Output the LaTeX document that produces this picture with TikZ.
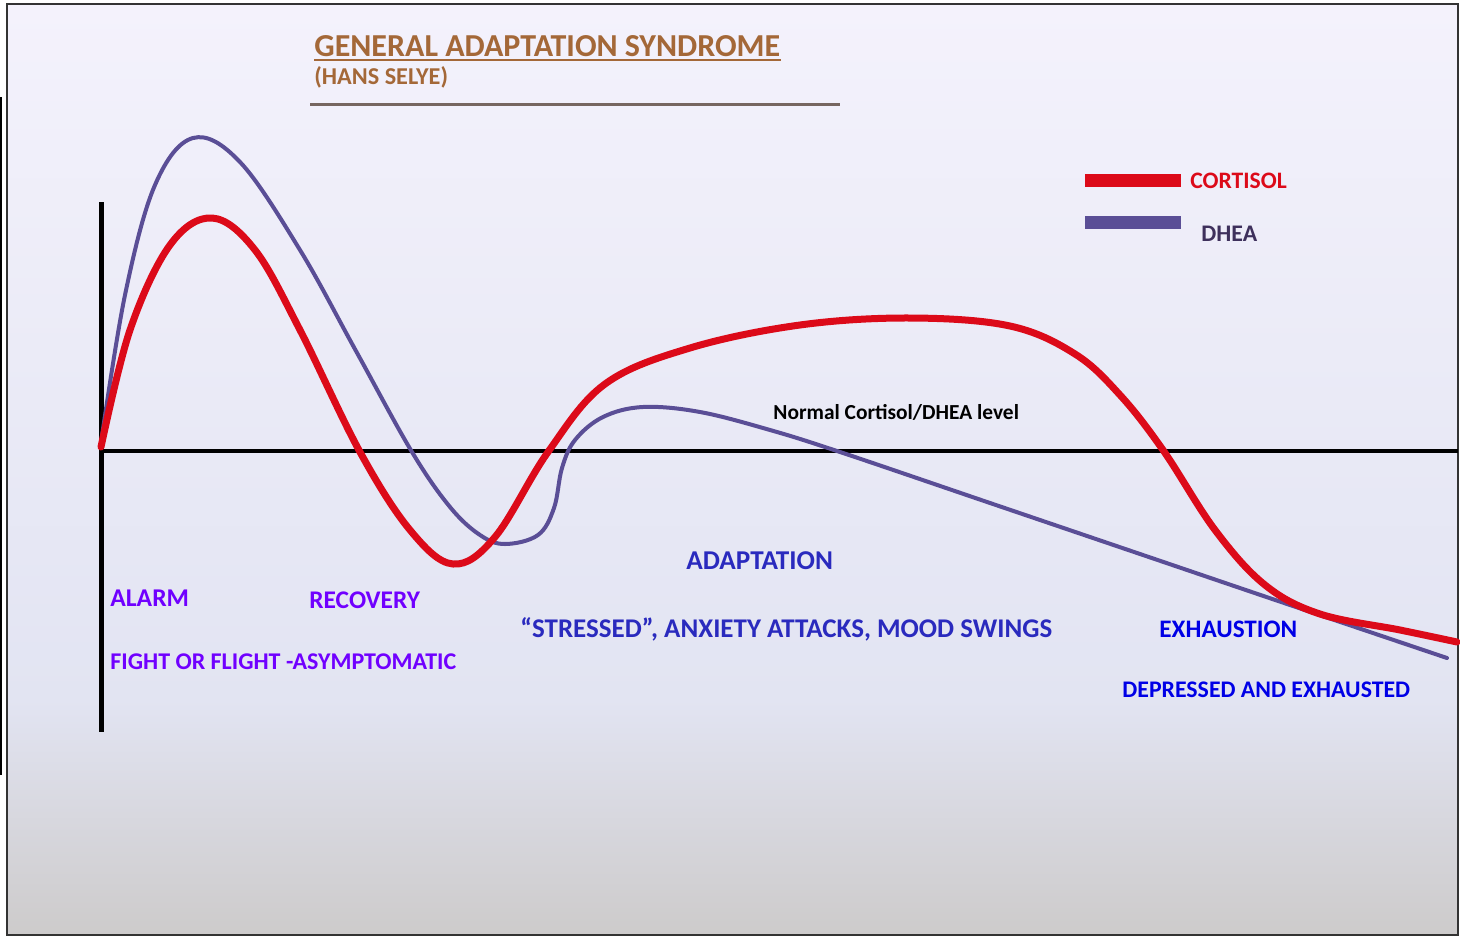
\documentclass[tikz,border=0pt]{standalone}
\usepackage{fontspec}
\setmainfont{Carlito}
\usepackage{xcolor}

\definecolor{cortisol}{RGB}{220,10,25}
\definecolor{dhea}{RGB}{90,78,150}
\definecolor{dheatext}{RGB}{62,48,92}
\definecolor{phaseviolet}{RGB}{112,0,255}
\definecolor{adaptblue}{RGB}{42,42,190}
\definecolor{exhblue}{RGB}{0,0,230}
\definecolor{titlebrown}{RGB}{164,104,56}
\definecolor{rulegrey}{RGB}{118,102,96}
\definecolor{bgtop}{RGB}{244,242,252}
\definecolor{bgmid}{RGB}{226,228,242}
\definecolor{bgbot}{RGB}{205,203,203}

\tikzset{
  cortisolline/.style={draw=cortisol,line width=3.5pt,line cap=round,line join=round},
  dhealine/.style={draw=dhea,line width=2pt,line cap=round,line join=round},
  phase/.style={anchor=base west,inner sep=0pt,font=\bfseries\fontsize{12.7}{15}\selectfont},
}

\begin{document}
\begin{tikzpicture}[x=0.5pt,y=-0.5pt]
        \useasboundingbox (0,0) rectangle (1460,937);
        % Background
        \shade[top color=bgtop,bottom color=bgmid] (7,4) rectangle (1458,700);
        \shade[top color=bgmid,bottom color=bgbot] (7,700) rectangle (1458,935);
        \draw[black!80,line width=1pt] (7,4) rectangle (1458,935);
        \draw[black,line width=1pt] (1,97) -- (1,775);

        % Title
        \node[phase,titlebrown,font=\bfseries\fontsize{16}{18}\selectfont] (title) at (314,56) {GENERAL ADAPTATION SYNDROME};
        \draw[titlebrown,line width=1pt] ([yshift=-2pt]title.base west) -- ([yshift=-2pt]title.base east);
        \node[phase,titlebrown,font=\bfseries\fontsize{12.1}{14}\selectfont] (author) at (314,84) {(HANS SELYE)};
        \draw[rulegrey,line width=1.5pt] (310,104) -- (840,104);

        % Legend
        \coordinate (cs) at (1085,180);
        \coordinate (ce) at (1181,180);
        \coordinate (ds) at (1085,222);
        \coordinate (de) at (1181,222);
        \draw[cortisol,line width=6.5pt] (cs) -- (ce);
        \draw[dhea,line width=6.5pt] (ds) -- (de);
        \node[phase,cortisol,font=\bfseries\fontsize{11.8}{14}\selectfont] (lcort) at (1190,188) {CORTISOL};
        \node[phase,dheatext,font=\bfseries\fontsize{11.9}{14}\selectfont] (ldhea) at (1201,241) {DHEA};

        % Axes
        \draw[black,line width=2pt] (100,451) -- (1458,451);
        \draw[black,line width=2.5pt] (101,202) -- (101,732);
        \node[phase,font=\bfseries\fontsize{10.7}{13}\selectfont] (normal) at (773,419) {Normal Cortisol/DHEA level};

        % DHEA curve
        \draw[dhealine] plot[smooth,tension=0.6] coordinates {(101,443) (125,295) (155,185) (193,138) (240,162) (300,250) (356,351) (412,452) (450,507) (480,535) (505,544) (538,535) (554,508) (562,468) (575,440) (603,417) (643,407) (700,412) (770,430) (840,452) (990,503) (1140,554) (1290,605) (1447,658)};

        % Cortisol curve
        \draw[cortisolline] plot[smooth,tension=0.6] coordinates {(101,447) (130,330) (170,245) (212,218) (255,250) (300,330) (360,452) (410,530) (453,564) (495,537) (548,452) (605,384) (690,348) (800,325) (910,318) (1010,326) (1075,354) (1120,395) (1163,450) (1215,530) (1265,585) (1320,614) (1400,630) (1457,642)};

        % Phase labels
        \node[phase,phaseviolet,font=\bfseries\fontsize{12.8}{15}\selectfont] (alarm) at (110,606) {ALARM};
        \node[phase,phaseviolet] (recovery) at (309,608) {RECOVERY};
        \node[phase,phaseviolet,font=\bfseries\fontsize{12}{15}\selectfont] (fight) at (110,669) {FIGHT OR FLIGHT -ASYMPTOMATIC};
        \node[phase,adaptblue,font=\bfseries\fontsize{13.6}{16}\selectfont] (adapt) at (686,569) {ADAPTATION};
        \node[phase,adaptblue,font=\bfseries\fontsize{13.5}{16}\selectfont] (stressed) at (520,637) {“STRESSED”, ANXIETY ATTACKS, MOOD SWINGS};
        \node[phase,exhblue,font=\bfseries\fontsize{12.6}{15}\selectfont] (exhaust) at (1159,637) {EXHAUSTION};
        \node[phase,exhblue,font=\bfseries\fontsize{11.9}{14}\selectfont] (depressed) at (1122,697) {DEPRESSED AND EXHAUSTED};
    \end{tikzpicture}
\end{document}
